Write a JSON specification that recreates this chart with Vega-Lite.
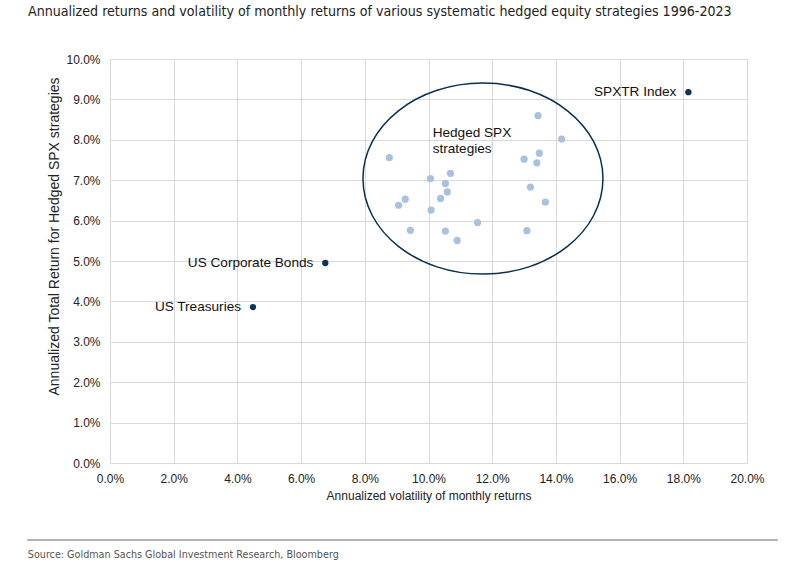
{
  "$schema": "https://vega.github.io/schema/vega-lite/v6.json",
  "width": 637,
  "height": 404,
  "autosize": {"type": "none"},
  "padding": {"left": 110, "top": 59, "right": 57, "bottom": 110},
  "background": "white",
  "title": {
    "text": "Annualized returns and volatility of monthly returns of various systematic hedged equity strategies 1996-2023",
    "anchor": "start",
    "frame": "group",
    "dx": -82,
    "font": "Liberation Sans Narrow, DejaVu Sans Condensed, Roboto",
    "fontSize": 14.1,
    "fontWeight": "normal",
    "color": "#222222",
    "offset": 34
  },
  "config": {
    "view": {"stroke": null},
    "font": "Liberation Sans",
    "axis": {
      "grid": true,
      "gridColor": "#d9d9d9",
      "gridWidth": 1,
      "domain": false,
      "ticks": false,
      "labelFlush": false,
      "labelFont": "Liberation Sans",
      "labelFontSize": 12,
      "labelColor": "#222222",
      "titleFont": "Liberation Sans",
      "titleFontSize": 12,
      "titleFontWeight": "normal",
      "titleColor": "#222222"
    }
  },
  "datasets": {
    "points": [
      {"vol": 0.1344, "ret": 0.0860, "group": "Hedged", "label": ""},
      {"vol": 0.1418, "ret": 0.0802, "group": "Hedged", "label": ""},
      {"vol": 0.0877, "ret": 0.0756, "group": "Hedged", "label": ""},
      {"vol": 0.1348, "ret": 0.0767, "group": "Hedged", "label": ""},
      {"vol": 0.1300, "ret": 0.0752, "group": "Hedged", "label": ""},
      {"vol": 0.1340, "ret": 0.0743, "group": "Hedged", "label": ""},
      {"vol": 0.1069, "ret": 0.0717, "group": "Hedged", "label": ""},
      {"vol": 0.1006, "ret": 0.0704, "group": "Hedged", "label": ""},
      {"vol": 0.1053, "ret": 0.0692, "group": "Hedged", "label": ""},
      {"vol": 0.1059, "ret": 0.0671, "group": "Hedged", "label": ""},
      {"vol": 0.1320, "ret": 0.0683, "group": "Hedged", "label": ""},
      {"vol": 0.0927, "ret": 0.0653, "group": "Hedged", "label": ""},
      {"vol": 0.0906, "ret": 0.0638, "group": "Hedged", "label": ""},
      {"vol": 0.1038, "ret": 0.0655, "group": "Hedged", "label": ""},
      {"vol": 0.1008, "ret": 0.0626, "group": "Hedged", "label": ""},
      {"vol": 0.1367, "ret": 0.0646, "group": "Hedged", "label": ""},
      {"vol": 0.1154, "ret": 0.0595, "group": "Hedged", "label": ""},
      {"vol": 0.0943, "ret": 0.0576, "group": "Hedged", "label": ""},
      {"vol": 0.1053, "ret": 0.0574, "group": "Hedged", "label": ""},
      {"vol": 0.1090, "ret": 0.0551, "group": "Hedged", "label": ""},
      {"vol": 0.1309, "ret": 0.0575, "group": "Hedged", "label": ""},
      {"vol": 0.1816, "ret": 0.0918, "group": "Benchmark", "label": "SPXTR Index"},
      {"vol": 0.0676, "ret": 0.0495, "group": "Benchmark", "label": "US Corporate Bonds"},
      {"vol": 0.0449, "ret": 0.0386, "group": "Benchmark", "label": "US Treasuries"}
    ]
  },
  "layer": [
    {
      "data": {"values": [{"vol": 0.1171, "ret": 0.0704}]},
      "mark": {
        "type": "point",
        "shape": "M-1,0A1,0.796,0,1,1,1,0A1,0.796,0,1,1,-1,0Z",
        "size": 57600,
        "filled": false,
        "stroke": "#0c2f4f",
        "strokeWidth": 1.5,
        "opacity": 1
      },
      "encoding": {
        "x": {
          "field": "vol",
          "type": "quantitative",
          "scale": {"domain": [0, 0.2], "nice": false, "zero": false},
          "title": "Annualized volatility of monthly returns",
          "axis": {
            "format": ".1%",
            "values": [0, 0.02, 0.04, 0.06, 0.08, 0.1, 0.12, 0.14, 0.16, 0.18, 0.2],
            "labelPadding": 10,
            "titlePadding": 6
          }
        },
        "y": {
          "field": "ret",
          "type": "quantitative",
          "scale": {"domain": [0, 0.1], "nice": false, "zero": false},
          "title": "Annualized Total Return for Hedged SPX strategies",
          "axis": {
            "titleFontSize": 14,
            "titleY": 177,
            "format": ".1%",
            "values": [0, 0.01, 0.02, 0.03, 0.04, 0.05, 0.06, 0.07, 0.08, 0.09, 0.1],
            "labelPadding": 10,
            "titlePadding": 4
          }
        }
      }
    },
    {
      "data": {"name": "points"},
      "transform": [{"filter": "datum.group === 'Hedged'"}],
      "mark": {"type": "circle", "size": 52, "color": "#a9c1de", "opacity": 1},
      "encoding": {
        "x": {"field": "vol", "type": "quantitative", "title": "Annualized volatility of monthly returns"},
        "y": {"field": "ret", "type": "quantitative", "title": "Annualized Total Return for Hedged SPX strategies"}
      }
    },
    {
      "data": {"name": "points"},
      "transform": [{"filter": "datum.group === 'Benchmark'"}],
      "mark": {"type": "circle", "size": 40, "color": "#0c3457", "opacity": 1},
      "encoding": {
        "x": {"field": "vol", "type": "quantitative", "title": "Annualized volatility of monthly returns"},
        "y": {"field": "ret", "type": "quantitative", "title": "Annualized Total Return for Hedged SPX strategies"}
      }
    },
    {
      "data": {"name": "points"},
      "transform": [{"filter": "datum.group === 'Benchmark'"}],
      "mark": {"type": "text", "align": "right", "baseline": "middle", "dx": -12, "fontSize": 13.6, "color": "#111111", "font": "Liberation Sans"},
      "encoding": {
        "x": {"field": "vol", "type": "quantitative", "title": "Annualized volatility of monthly returns"},
        "y": {"field": "ret", "type": "quantitative", "title": "Annualized Total Return for Hedged SPX strategies"},
        "text": {"field": "label"}
      }
    },
    {
      "data": {"values": [{"vol": 0.1013, "ret": 0.0816, "note": ["Hedged SPX", "strategies"]}]},
      "mark": {"type": "text", "align": "left", "baseline": "middle", "fontSize": 13.6, "lineHeight": 15.5, "color": "#111111", "font": "Liberation Sans"},
      "encoding": {
        "x": {"field": "vol", "type": "quantitative", "title": "Annualized volatility of monthly returns"},
        "y": {"field": "ret", "type": "quantitative", "title": "Annualized Total Return for Hedged SPX strategies"},
        "text": {"field": "note"}
      }
    },
    {
      "data": {"values": [{"source": "Source: Goldman Sachs Global Investment Research, Bloomberg"}]},
      "mark": {"type": "rule", "color": "#666666", "strokeWidth": 1, "clip": false},
      "encoding": {
        "x": {"datum": -0.026, "type": "quantitative", "title": "Annualized volatility of monthly returns"},
        "x2": {"datum": 0.2097},
        "y": {"datum": -0.01906, "type": "quantitative", "title": "Annualized Total Return for Hedged SPX strategies"}
      }
    },
    {
      "data": {"values": [{"source": "Source: Goldman Sachs Global Investment Research, Bloomberg"}]},
      "mark": {"type": "text", "align": "left", "baseline": "middle", "fontSize": 10.7, "color": "#555555", "clip": false, "font": "Liberation Sans Narrow, DejaVu Sans Condensed, Roboto"},
      "encoding": {
        "x": {"datum": -0.0258, "type": "quantitative", "title": "Annualized volatility of monthly returns"},
        "y": {"datum": -0.02277, "type": "quantitative", "title": "Annualized Total Return for Hedged SPX strategies"},
        "text": {"field": "source"}
      }
    }
  ]
}
